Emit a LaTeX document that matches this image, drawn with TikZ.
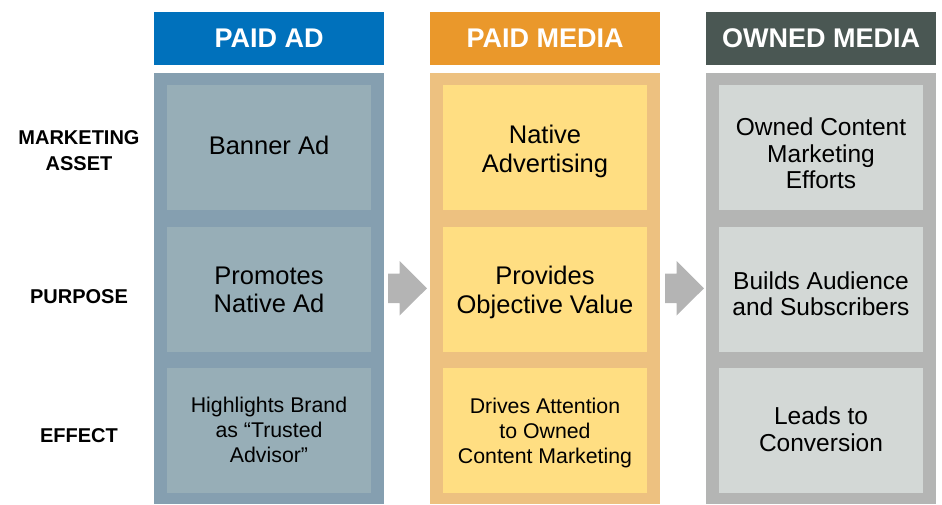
\documentclass[tikz,border=0pt]{standalone}
\usepackage{fontspec}
\setmainfont{Liberation Sans}
\definecolor{adHead}{HTML}{0071BC}
\definecolor{adBody}{HTML}{859FB0}
\definecolor{adCell}{HTML}{97AEB7}
\definecolor{pmHead}{HTML}{EA982B}
\definecolor{pmBody}{HTML}{EDC180}
\definecolor{pmCell}{HTML}{FFDE82}
\definecolor{omHead}{HTML}{4A5753}
\definecolor{omBody}{HTML}{B4B5B4}
\definecolor{omCell}{HTML}{D3D8D6}
\definecolor{arrowGrey}{HTML}{B4B4B4}
\begin{document}
\begin{tikzpicture}[x=1pt,y=-1pt,
  hdr/.style={anchor=north west, minimum width=230pt, minimum height=52.5pt, inner sep=0pt, text=white,
    font=\fontsize{27}{30}\selectfont\bfseries},
  colbody/.style={anchor=north west, minimum width=230pt, minimum height=431pt, inner sep=0pt},
  cell/.style={minimum width=204pt, minimum height=125pt, inner sep=0pt},
  celltext/.style={inner sep=0pt, align=center, text=black},
  big/.style={font=\fontsize{25.5}{28.5}\selectfont},
  mid/.style={font=\fontsize{24.5}{26.5}\selectfont},
  small/.style={font=\fontsize{21.3}{25}\selectfont},
  rowlab/.style={align=center, font=\fontsize{20}{26.6}\selectfont\bfseries},
  flow/.style={fill=arrowGrey, draw=none}]
\useasboundingbox (0,0) rectangle (942,504);
% headers
\node[hdr, fill=adHead] (h1) at (154,12) {PAID AD};
\node[hdr, fill=pmHead] (h2) at (430,12) {PAID MEDIA};
\node[hdr, fill=omHead] (h3) at (706,12) {OWNED MEDIA};
% bodies
\node[colbody, fill=adBody] (b1) at (154,73) {};
\node[colbody, fill=pmBody] (b2) at (430,73) {};
\node[colbody, fill=omBody] (b3) at (706,73) {};
% cells
\node[cell, fill=adCell] (a1) at (269,147) {};
\node[cell, fill=adCell] (a2) at (269,289.2) {};
\node[cell, fill=adCell] (a3) at (269,430.5) {};
\node[cell, fill=pmCell] (p1) at (545,147) {};
\node[cell, fill=pmCell] (p2) at (545,289.2) {};
\node[cell, fill=pmCell] (p3) at (545,430.5) {};
\node[cell, fill=omCell] (o1) at (821,147) {};
\node[cell, fill=omCell] (o2) at (821,289.2) {};
\node[cell, fill=omCell] (o3) at (821,430.5) {};
% cell texts
\node[celltext, big] (a1t) at ([yshift=2pt]a1.center) {Banner Ad};
\node[celltext, big] (a2t) at ([yshift=-0.5pt]a2.center) {Promotes\\Native Ad};
\node[celltext, small] (a3t) at ([yshift=1pt]a3.center) {Highlights Brand\\as “Trusted\\Advisor”};
\node[celltext, big] (p1t) at ([yshift=-4.5pt]p1.center) {Native\\Advertising};
\node[celltext, big] (p2t) at ([yshift=-3pt]p2.center) {Provides\\Objective Value};
\node[celltext, small] (p3t) at ([yshift=-2.5pt]p3.center) {Drives Attention\\to Owned\\Content Marketing};
\node[celltext, mid] (o1t) at ([yshift=-6.5pt]o1.center) {Owned Content\\Marketing\\Efforts};
\node[celltext, mid] (o2t) at ([yshift=-4.5pt]o2.center) {Builds Audience\\and Subscribers};
\node[celltext, mid] (o3t) at ([yshift=1.5pt]o3.center) {Leads to\\Conversion};
% row labels
\node[rowlab] (l1) at (79,150.5) {MARKETING\\ASSET};
\node[rowlab] (l2) at (79,297) {PURPOSE};
\node[rowlab] (l3) at (79,435.5) {EFFECT};
% flow arrows
\fill[flow] (388,273.5) -- (399.5,273.5) -- (399.5,261) -- (427,288.3) -- (399.5,315.5) -- (399.5,303) -- (388,303) -- cycle;
\fill[flow] (665,273.5) -- (676.5,273.5) -- (676.5,261) -- (704,288.3) -- (676.5,315.5) -- (676.5,303) -- (665,303) -- cycle;
\end{tikzpicture}
\end{document}
